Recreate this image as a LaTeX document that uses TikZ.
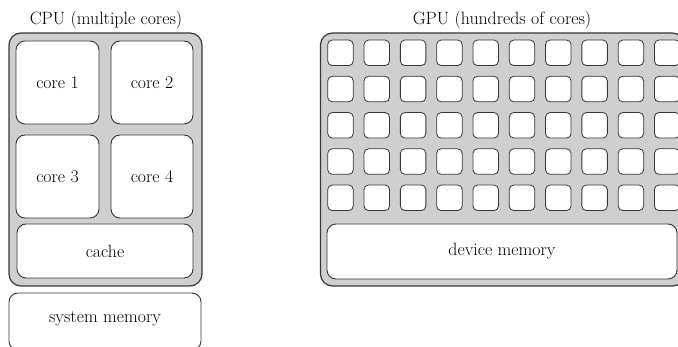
\documentclass[tikz,border=0pt]{standalone}
\definecolor{fillc}{RGB}{207,207,207}
\definecolor{linec}{RGB}{55,55,55}
\tikzset{
  outerbox/.style={draw=linec, fill=fillc, line width=1.2pt, rounded corners=12pt, inner sep=0pt, outer sep=0pt},
  innerbox/.style={draw=linec, fill=white, line width=0.9pt, rounded corners=9pt, inner sep=0pt, outer sep=0pt},
  smallcore/.style={draw=linec, fill=white, line width=0.8pt, rounded corners=4.5pt, inner sep=0pt, outer sep=0pt, minimum width=25.5pt, minimum height=25.5pt},
  titletext/.style={anchor=base, inner sep=0pt}
}
\begin{document}
\begin{tikzpicture}[x=1pt,y=-1pt, font=\fontsize{17.8}{21}\selectfont]
\useasboundingbox (0,0) rectangle (678,347);
\clip (0,0) rectangle (678,347);
% CPU
\node[titletext] (cputitle) at (106,25) {CPU (multiple cores)};
\node[outerbox, minimum width=193pt, minimum height=253pt] (cpu) at (105.5,159.5) {};
\node[innerbox, minimum width=83pt, minimum height=83pt] (core1) at (57.5,82.5) {core 1};
\node[innerbox, minimum width=82pt, minimum height=83pt] (core2) at (152,82.5) {core 2};
\node[innerbox, minimum width=83pt, minimum height=83pt] (core3) at (57.5,176.5) {core 3};
\node[innerbox, minimum width=82pt, minimum height=83pt] (core4) at (152,176.5) {core 4};
\node[innerbox, minimum width=176pt, minimum height=54pt] (cache) at (105,251) {cache};
\node[innerbox, minimum width=192pt, minimum height=57pt] (sysmem) at (105,321.5) {};
\node[inner sep=0pt] (sysmemlabel) at (105,319) {system memory};
% GPU
\node[titletext] (gputitle) at (502,25) {GPU (hundreds of cores)};
\node[outerbox, minimum width=364pt, minimum height=253pt] (gpu) at (502.5,159.5) {};
\foreach \i in {0,...,9}{
  \foreach \j in {0,...,4}{
    \node[smallcore] (g-\i-\j) at (340.5+36.3*\i, 52.8+36.25*\j) {};
  }
}
\node[innerbox, minimum width=350pt, minimum height=55pt] (devmem) at (502,251.5) {device memory};
\end{tikzpicture}
\end{document}
